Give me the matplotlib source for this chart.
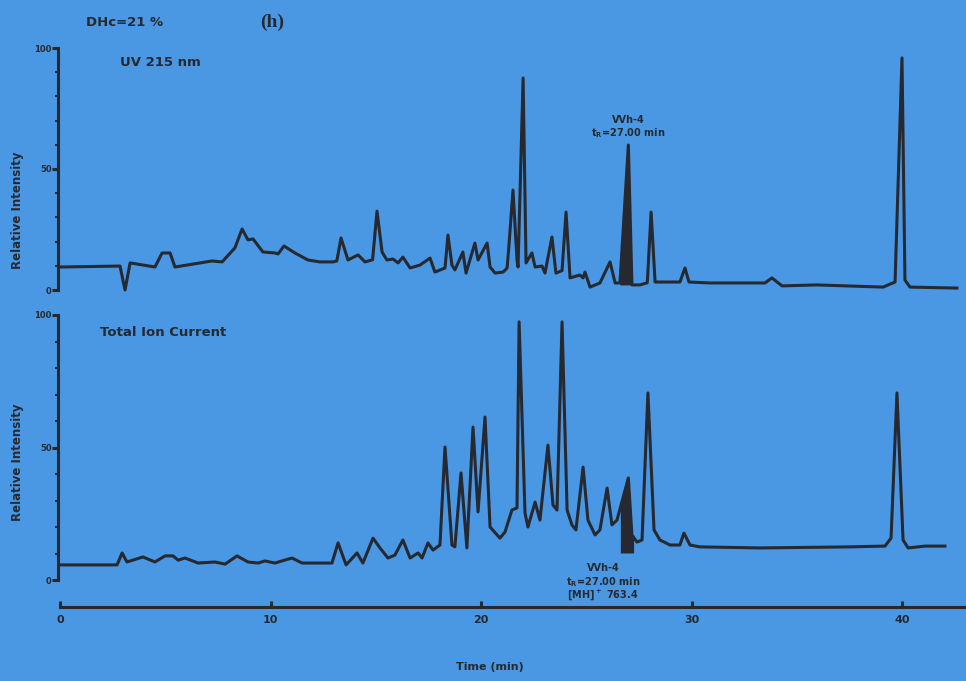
import numpy as np
import matplotlib
matplotlib.use("Agg")
import matplotlib.pyplot as plt
from matplotlib.ticker import FixedLocator

plt.rcParams['font.family'] = ['DejaVu Sans']
plt.rcParams['font.weight'] = 'bold'
plt.rcParams['mathtext.fontset'] = 'custom'
plt.rcParams['mathtext.rm'] = 'DejaVu Sans:bold'
plt.rcParams['mathtext.bf'] = 'DejaVu Sans:bold'
plt.rcParams['mathtext.default'] = 'bf'

# UV 215 nm trace: retention time (min) and relative intensity (%)
uv_time = [0.0, 2.85, 3.09, 3.33, 4.51, 4.85, 5.23, 5.46, 7.22, 7.70, 8.31, 8.65,
           8.93, 9.17, 9.64, 10.21, 10.36, 10.64, 11.16, 11.78, 12.35, 12.97, 13.15,
           13.35, 13.68, 14.16, 14.49, 14.85, 15.06, 15.30, 15.53, 15.82, 16.06,
           16.29, 16.63, 17.10, 17.58, 17.81, 18.29, 18.43, 18.62, 18.76, 19.14,
           19.29, 19.71, 19.86, 20.29, 20.43, 20.67, 21.05, 21.24, 21.33, 21.52,
           21.71, 21.76, 22.00, 22.14, 22.42, 22.57, 22.90, 23.04, 23.37, 23.56,
           23.85, 24.04, 24.23, 24.70, 24.85, 24.94, 25.18, 25.65, 26.13, 26.37,
           26.60, 27.00, 27.17, 27.55, 27.90, 28.08, 28.27, 29.07, 29.45, 29.69,
           29.88, 30.88, 33.49, 33.82, 34.30, 35.96, 39.10, 39.67, 40.00, 40.14,
           40.38, 42.61]
uv_int = [9.5, 9.9, 0.0, 11.2, 9.5, 15.3, 15.3, 9.5, 12.0, 11.6, 17.4, 25.2,
          20.7, 21.1, 15.7, 15.3, 14.9, 18.2, 15.3, 12.4, 11.6, 11.6, 12.0,
          21.5, 12.4, 14.5, 11.6, 12.5, 32.6, 15.7, 12.4, 12.8, 11.2,
          13.6, 9.1, 10.3, 13.2, 7.4, 9.1, 22.7, 10.3, 8.3, 15.7,
          7.0, 19.4, 12.4, 19.4, 9.5, 7.0, 7.4, 9.1, 18.6, 41.3,
          12.4, 9.5, 87.6, 11.2, 15.3, 9.5, 9.9, 7.0, 21.9, 7.0,
          8.0, 32.2, 5.0, 6.2, 5.0, 7.4, 1.2, 2.9, 11.6, 2.9,
          2.9, 59.9, 2.1, 2.1, 3.0, 32.2, 3.3, 3.3, 3.3, 9.1,
          3.3, 2.9, 2.9, 5.0, 1.7, 2.1, 1.2, 3.3, 95.9, 4.1,
          1.2, 0.8]

# Total ion current trace
tic_time = [0.0, 2.71, 2.95, 3.18, 3.94, 4.51, 4.99, 5.37, 5.61, 5.94, 6.56, 7.36,
            7.84, 8.41, 8.93, 9.41, 9.74, 10.21, 11.02, 11.50, 12.92, 13.21, 13.59,
            14.11, 14.39, 14.87, 15.20, 15.58, 15.91, 16.29, 16.63, 17.01, 17.20,
            17.48, 17.72, 18.05, 18.29, 18.62, 18.76, 19.05, 19.33, 19.62, 19.86,
            20.19, 20.43, 20.90, 21.14, 21.47, 21.71, 21.81, 22.09, 22.23, 22.57,
            22.80, 23.18, 23.42, 23.61, 23.85, 24.09, 24.32, 24.51, 24.85, 25.08,
            25.42, 25.65, 25.99, 26.22, 26.46, 27.00, 27.17, 27.41, 27.65, 27.93,
            28.22, 28.50, 28.98, 29.45, 29.64, 29.93, 30.40, 33.25, 37.53, 39.19,
            39.48, 39.76, 40.05, 40.29, 41.09, 42.04]
tic_int = [5.7, 5.7, 10.2, 6.8, 8.7, 6.8, 9.1, 9.1, 7.5, 8.3, 6.4, 6.8,
           6.0, 9.1, 6.8, 6.4, 7.2, 6.4, 8.3, 6.4, 6.4, 14.0, 5.7,
           10.2, 6.4, 15.8, 12.1, 8.3, 9.4, 15.1, 8.3, 10.2, 8.3,
           14.0, 11.3, 13.2, 50.2, 13.2, 12.5, 40.4, 12.1, 57.7, 25.7,
           61.5, 20.0, 15.8, 18.1, 26.4, 27.2, 97.4, 25.3, 20.0, 29.4,
           22.6, 50.9, 28.3, 26.4, 97.4, 26.4, 20.8, 18.9, 42.6, 22.6,
           17.0, 18.9, 34.7, 20.8, 22.6, 38.5, 17.0, 14.3, 15.1, 70.6,
           18.9, 15.1, 13.2, 13.2, 17.7, 13.2, 12.5, 12.1, 12.5, 12.8,
           15.8, 70.6, 15.1, 12.1, 12.8, 12.8]

# VVh-4 peak window (min) shaded under each trace
vvh_uv_window = (26.60, 27.17)
vvh_tic_window = (26.62, 27.25)
vvh_tic_floor = 10.2

x_ticks = [0, 10, 20, 30, 40]
y_ticks = [0, 50, 100]
y_minor = list(range(0, 101, 10))

BG = '#4a98e4'
INK = '#262930'

W, H = 966, 681
fig = plt.figure(figsize=(W / 100, H / 100), dpi=100, facecolor=BG)


def frac_rect(x0, y0, x1, y1):
    return [x0 / W, 1 - y1 / H, (x1 - x0) / W, (y1 - y0) / H]


t_left = -2 / 21.05
t_right = (W - 60) / 21.05

ax_uv = fig.add_axes(frac_rect(58, 48, W, 290))
ax_tic = fig.add_axes(frac_rect(58, 315, W, 607))

for ax in (ax_uv, ax_tic):
    ax.set_facecolor('none')
    ax.set_xlim(t_left, t_right)
    for side in ('top', 'right'):
        ax.spines[side].set_visible(False)
    ax.spines['left'].set_color(INK)
    ax.spines['left'].set_linewidth(2.2)
    ax.spines['left'].set_bounds(0, 100)
    ax.set_yticks(y_ticks)
    ax.yaxis.set_minor_locator(FixedLocator(y_minor))
    ax.tick_params(axis='y', which='major', direction='out', length=4, width=2.2,
                   colors=INK, labelsize=6, pad=0.5)
    ax.tick_params(axis='y', which='minor', direction='out', length=2, width=1.5,
                   colors=INK)

ax_uv.set_ylim(0, 100)
ax_uv.spines['bottom'].set_visible(False)
ax_uv.set_xticks([])

ax_tic.set_ylim(-(607 - 580) / 2.65, 100)
ax_tic.spines['bottom'].set_color(INK)
ax_tic.spines['bottom'].set_linewidth(2.2)
ax_tic.spines['bottom'].set_bounds(0, t_right)
ax_tic.set_xticks(x_ticks)
ax_tic.tick_params(axis='x', direction='in', length=4, width=2.2, colors=INK,
                   labelsize=8, pad=6)

# traces
ax_uv.plot(uv_time, uv_int, color=INK, lw=2.2, solid_joinstyle='round', clip_on=False)
ax_tic.plot(tic_time, tic_int, color=INK, lw=2.2, solid_joinstyle='round', clip_on=False)

# shaded VVh-4 peaks
tg = np.linspace(*vvh_uv_window, 60)
ax_uv.fill_between(tg, np.interp(tg, uv_time, uv_int).min(),
                   np.interp(tg, uv_time, uv_int), color=INK, lw=0)
tg = np.linspace(*vvh_tic_window, 60)
ax_tic.fill_between(tg, vvh_tic_floor, np.interp(tg, tic_time, tic_int),
                    color=INK, lw=0)

# annotations
ann = dict(ha='center', va='center', fontsize=7, color=INK)
ax_uv.text(27.0, 70.2, "VVh-4", **ann)
ax_uv.text(27.0, 64.9, "t$_R$=27.00 min", **ann)
ax_tic.text(25.8, 4.5, "VVh-4", **ann)
ax_tic.text(25.8, -0.75, "t$_R$=27.00 min", **ann)
ax_tic.text(25.8, -5.7, "[MH]$^+$ 763.4", **ann)

fig.text(125 / W, 1 - 22 / H, "DHc=21 %", ha='center', va='center', fontsize=9.5, color=INK)
fig.text(272 / W, 1 - 22 / H, "(h)", ha='center', va='center', fontsize=14, color=INK,
         family='Liberation Serif', weight='bold')
fig.text(120 / W, 1 - 62 / H, "UV 215 nm", ha='left', va='center', fontsize=9.5, color=INK)
fig.text(100 / W, 1 - 333 / H, "Total Ion Current", ha='left', va='center', fontsize=9.5,
         color=INK)
fig.text(18 / W, 1 - 210 / H, "Relative Intensity", rotation=90, ha='center', va='center',
         fontsize=8.5, color=INK)
fig.text(18 / W, 1 - 462 / H, "Relative Intensity", rotation=90, ha='center', va='center',
         fontsize=8.5, color=INK)
fig.text(490 / W, 1 - 667 / H, "Time (min)", ha='center', va='center', fontsize=8,
         color=INK)

fig.savefig("out.png", dpi=100, facecolor=BG)
